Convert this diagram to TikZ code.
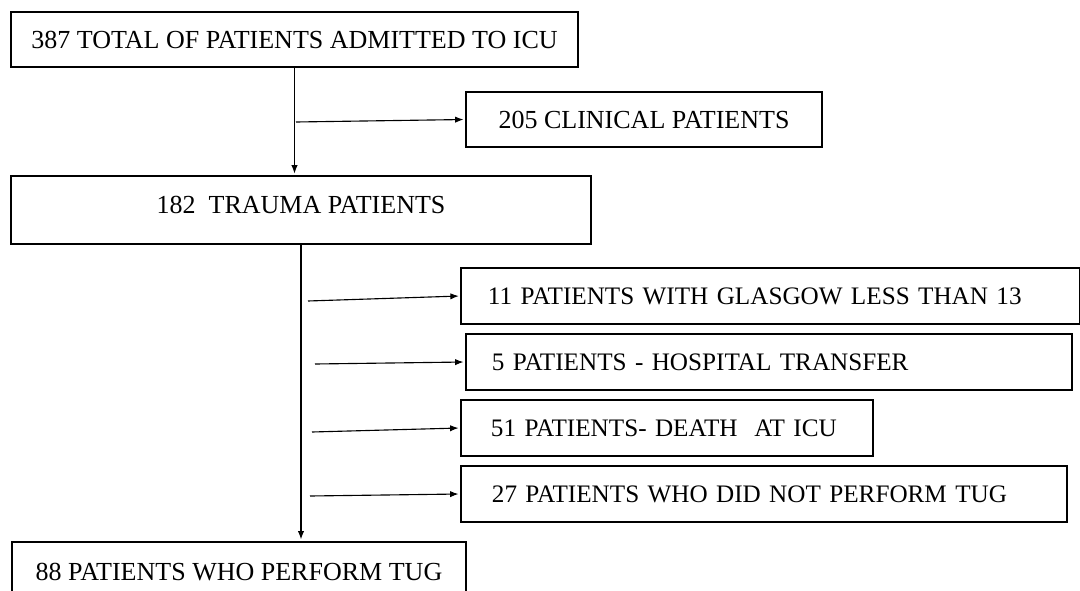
\documentclass[tikz,border=0pt]{standalone}
\usepackage{fontspec}
\setmainfont{Liberation Serif}
\usetikzlibrary{positioning, arrows.meta}
\tikzset{>={Latex[length=6pt,width=4.5pt]}}

\tikzset{
  box/.style={draw, line width=1.4pt, minimum height=1.4cm, inner sep=0pt,
    font=\fontsize{18.5}{22}\selectfont},
  sidebox/.style={box, anchor=center, align=left, font=\fontsize{17.9}{21}\selectfont},
  flow/.style={->, line width=0.8pt, shorten >=1pt}
}

\begin{document}
\begin{tikzpicture}[x=0.025cm, y=-0.025cm]
\useasboundingbox (0,0) rectangle (1080,591);

% main column
\node[box, minimum width=14.175cm, minimum height=1.375cm] (total) at (294.5,39.5)
  {387 TOTAL OF PATIENTS ADMITTED TO ICU};
\node[box, minimum width=8.9cm, minimum height=1.375cm] (clinical) at (644,119.5)
  {205 CLINICAL PATIENTS};
\node[box, minimum width=14.5cm, minimum height=1.7cm, text depth=7.2pt] (trauma) at (301,210)
  {182\ \ TRAUMA PATIENTS};
\node[box, minimum width=11.35cm, minimum height=1.5cm] (perform) at (239,572)
  {88 PATIENTS WHO PERFORM TUG};

% excluded patients
\node[sidebox, text width=14.125cm, inner xsep=0.675cm, line width=1pt] (glasgow) at (770.5,296)
  {11 PATIENTS WITH GLASGOW LESS THAN 13};
\node[sidebox, text width=13.85cm, inner xsep=0.65cm] (transfer) at (769,362)
  {5 PATIENTS - HOSPITAL TRANSFER};
\node[sidebox, text width=8.8cm, inner xsep=0.75cm] (death) at (667,428)
  {51 PATIENTS- DEATH\ \ AT ICU};
\node[sidebox, text width=13.6cm, inner xsep=0.775cm] (notug) at (764,494)
  {27 PATIENTS WHO DID NOT PERFORM TUG};

% connectors
\coordinate (j1) at (296,122);
\coordinate (j2) at (308,301);
\coordinate (j3) at (315,364);
\coordinate (j4) at (312,432);
\coordinate (j5) at (310,496);

\draw[flow] (total.south) -- (total.south |- trauma.north);
\draw[flow] (j1) -- (clinical.west);
\draw[flow, line width=1pt] (trauma.south) -- (trauma.south |- perform.north);
\draw[flow] (j2) -- (glasgow.west);
\draw[flow] (j3) -- (transfer.west);
\draw[flow] (j4) -- (death.west);
\draw[flow] (j5) -- (notug.west);
\end{tikzpicture}
\end{document}
